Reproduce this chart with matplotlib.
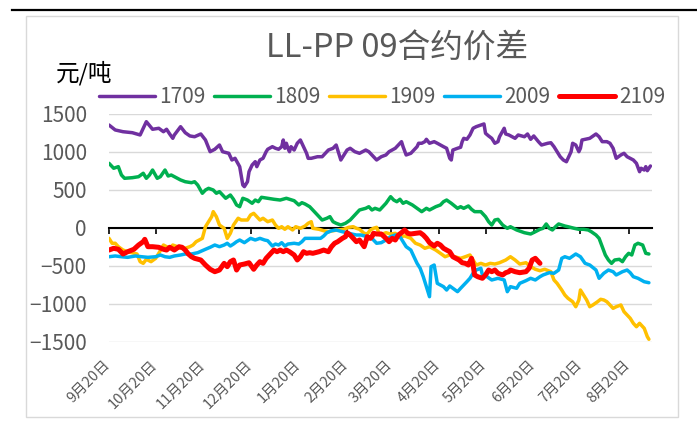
import matplotlib
matplotlib.use("Agg")
import matplotlib.pyplot as plt
from matplotlib.lines import Line2D
from matplotlib.patches import Rectangle
import matplotlib.transforms as mtransforms

plt.rcParams['font.family'] = ['Noto Sans CJK SC', 'DejaVu Sans']

# x = days since 9月20日
tick_days = [0, 30, 61, 91, 122, 153, 181, 212, 242, 273, 303, 334]
tick_labels = ["9月20日", "10月20日", "11月20日", "12月20日", "1月20日", "2月20日",
               "3月20日", "4月20日", "5月20日", "6月20日", "7月20日", "8月20日"]

d1709 = [0, 4, 9, 15, 20, 24, 28, 32, 35, 37, 39, 41, 42, 46, 49, 52, 55, 59, 62, 65, 68, 71, 73, 77, 79, 81, 84, 86, 87, 89, 90, 92, 94, 95, 97, 99, 101, 102, 105, 107, 109, 111, 112, 113, 114, 115, 116, 117, 119, 121, 123, 125, 127, 128, 130, 134, 137, 139, 141, 144, 146, 149, 151, 153, 155, 158, 161, 165, 167, 169, 172, 175, 178, 180, 182, 184, 186, 188, 189, 191, 194, 196, 198, 199, 201, 203, 204, 206, 209, 211, 213, 215, 217, 219, 220, 221, 224, 226, 227, 228, 230, 232, 234, 236, 239, 241, 242, 244, 246, 248, 250, 251, 254, 255, 257, 261, 263, 267, 269, 271, 273, 276, 278, 282, 284, 286, 288, 290, 292, 294, 297, 298, 300, 302, 303, 304, 306, 309, 312, 313, 315, 317, 320, 322, 324, 326, 329, 331, 333, 335, 337, 339, 341, 342, 344, 345, 346, 348]
v1709 = [1355, 1290, 1267, 1254, 1224, 1399, 1299, 1312, 1267, 1299, 1237, 1180, 1224, 1333, 1254, 1211, 1201, 1237, 1158, 1004, 1036, 1092, 1004, 983, 895, 917, 807, 566, 544, 609, 741, 829, 873, 807, 895, 917, 1004, 1036, 1070, 1049, 1036, 1070, 1158, 1049, 1115, 1049, 1004, 1070, 1026, 1115, 1158, 1070, 983, 917, 917, 938, 938, 983, 1026, 1049, 1092, 895, 961, 1026, 1049, 1004, 983, 1026, 1004, 961, 895, 938, 961, 1004, 1026, 1049, 1092, 1136, 1070, 961, 983, 1026, 1070, 1115, 1115, 1136, 1167, 1115, 1136, 1115, 1092, 1070, 1049, 917, 895, 1026, 1049, 1062, 1136, 1180, 1167, 1224, 1312, 1333, 1355, 1369, 1246, 1211, 1180, 1115, 1136, 1201, 1312, 1237, 1224, 1180, 1224, 1201, 1237, 1167, 1211, 1136, 1092, 1115, 1122, 1070, 1004, 938, 895, 872, 1004, 1115, 1092, 1004, 1049, 1158, 1167, 1180, 1224, 1237, 1201, 1136, 1136, 1115, 1049, 917, 961, 983, 938, 917, 895, 851, 741, 786, 763, 807, 754, 816]

d1809 = [0, 3, 6, 8, 10, 15, 19, 22, 24, 26, 28, 31, 33, 36, 38, 40, 44, 46, 49, 53, 55, 57, 60, 62, 64, 67, 69, 71, 75, 78, 80, 82, 84, 86, 89, 92, 94, 96, 98, 102, 106, 110, 114, 119, 122, 124, 126, 129, 131, 134, 137, 140, 142, 144, 146, 149, 152, 155, 158, 161, 165, 167, 169, 171, 174, 178, 181, 183, 185, 187, 189, 191, 195, 198, 201, 204, 206, 210, 213, 215, 217, 220, 224, 226, 228, 231, 233, 235, 239, 242, 244, 246, 248, 250, 253, 256, 258, 262, 267, 271, 274, 277, 279, 281, 283, 285, 287, 289, 291, 293, 295, 299, 302, 305, 308, 310, 313, 315, 317, 319, 321, 323, 325, 328, 330, 332, 334, 336, 338, 340, 343, 345, 347]
v1809 = [851, 786, 807, 697, 654, 662, 675, 720, 654, 697, 763, 654, 675, 763, 684, 697, 654, 632, 609, 596, 609, 566, 457, 500, 522, 500, 457, 478, 391, 434, 378, 303, 280, 391, 368, 325, 368, 346, 404, 391, 378, 368, 391, 359, 303, 333, 316, 280, 237, 171, 105, 128, 149, 83, 62, 39, 62, 105, 171, 237, 259, 280, 237, 259, 237, 325, 412, 368, 346, 378, 325, 346, 303, 259, 215, 259, 237, 280, 303, 346, 368, 325, 259, 280, 259, 290, 246, 215, 215, 149, 83, 39, 105, 114, 39, -4, 17, -26, -62, -79, -49, -17, -4, 53, -4, -26, 17, 53, 39, 26, 17, -4, -17, -17, -26, -49, -92, -136, -246, -355, -421, -465, -421, -412, -443, -378, -333, -355, -224, -201, -224, -333, -342]

d1909 = [0, 2, 4, 6, 9, 12, 16, 18, 20, 22, 24, 27, 30, 32, 35, 37, 39, 41, 44, 46, 49, 52, 54, 56, 60, 62, 64, 66, 67, 69, 71, 74, 76, 78, 80, 83, 85, 89, 91, 93, 95, 97, 99, 102, 105, 107, 109, 111, 113, 115, 118, 120, 123, 126, 128, 130, 131, 135, 138, 141, 144, 147, 151, 154, 157, 159, 161, 164, 166, 168, 170, 172, 174, 178, 181, 184, 187, 190, 194, 197, 200, 203, 206, 210, 213, 216, 219, 222, 226, 229, 232, 234, 236, 239, 242, 245, 248, 251, 255, 258, 261, 264, 268, 271, 274, 277, 280, 284, 286, 288, 291, 293, 295, 298, 300, 302, 303, 305, 307, 309, 311, 314, 316, 318, 320, 322, 324, 326, 329, 331, 333, 335, 337, 339, 341, 344, 346, 347]
v1909 = [-136, -201, -201, -246, -290, -312, -333, -342, -443, -465, -412, -443, -399, -333, -224, -246, -267, -224, -246, -267, -267, -246, -224, -180, -136, 17, 83, 149, 215, 149, 39, -4, -136, -70, 39, 128, 105, 105, 171, 193, 149, 105, 128, 83, 105, 39, -4, 17, -17, 17, -26, 17, -4, 26, 62, 83, -4, -17, -36, -49, -36, -26, -17, 9, 17, -4, -17, -70, -79, -26, -4, 9, -92, -62, -79, -70, -114, -105, -136, -201, -224, -267, -246, -290, -333, -378, -355, -378, -399, -378, -355, -421, -487, -465, -487, -465, -474, -457, -421, -378, -421, -474, -457, -509, -543, -562, -543, -575, -684, -728, -816, -882, -925, -970, -1036, -947, -816, -882, -947, -1036, -1013, -970, -938, -947, -970, -1013, -1057, -1036, -1013, -1101, -1145, -1188, -1254, -1299, -1254, -1320, -1430, -1464]

d2009 = [0, 4, 8, 12, 17, 21, 25, 30, 33, 36, 39, 42, 46, 49, 53, 57, 62, 65, 68, 71, 74, 76, 78, 80, 82, 84, 87, 91, 94, 97, 100, 102, 105, 107, 109, 111, 113, 115, 119, 122, 124, 126, 129, 133, 136, 138, 140, 143, 146, 150, 153, 156, 159, 162, 166, 169, 172, 175, 178, 181, 184, 187, 189, 191, 194, 196, 198, 200, 202, 204, 206, 207, 209, 211, 213, 215, 217, 219, 221, 224, 226, 228, 230, 232, 234, 236, 239, 240, 243, 246, 250, 254, 256, 258, 262, 264, 268, 271, 274, 277, 279, 283, 286, 289, 291, 293, 296, 300, 303, 306, 309, 313, 315, 318, 321, 324, 326, 330, 333, 335, 337, 340, 344, 347]
v2009 = [-378, -368, -378, -386, -368, -378, -386, -378, -355, -378, -386, -368, -355, -342, -342, -325, -280, -254, -224, -246, -224, -201, -237, -211, -180, -158, -193, -136, -158, -136, -158, -167, -237, -211, -224, -193, -237, -211, -201, -211, -180, -136, -136, -136, -136, -105, -62, -36, -26, -49, -62, -79, -92, -92, -114, -136, -201, -193, -158, -114, -92, -114, -180, -246, -290, -378, -465, -530, -641, -772, -904, -509, -487, -728, -750, -772, -816, -763, -793, -838, -793, -750, -707, -662, -596, -553, -530, -618, -641, -684, -662, -684, -838, -772, -793, -728, -693, -662, -684, -641, -618, -588, -596, -553, -399, -378, -399, -342, -378, -465, -487, -553, -662, -596, -553, -575, -618, -575, -553, -588, -641, -662, -707, -720]

d2109 = [0, 3, 6, 9, 12, 16, 19, 22, 23, 25, 28, 32, 35, 37, 39, 42, 45, 47, 49, 51, 53, 55, 59, 62, 65, 68, 71, 74, 76, 78, 80, 82, 84, 87, 90, 93, 95, 97, 99, 101, 104, 106, 108, 110, 112, 114, 116, 119, 121, 123, 125, 127, 129, 131, 135, 138, 141, 143, 145, 147, 150, 152, 153, 155, 157, 159, 161, 164, 165, 166, 168, 169, 170, 172, 175, 178, 180, 182, 184, 186, 188, 190, 192, 194, 197, 200, 202, 204, 206, 209, 211, 213, 215, 217, 219, 221, 225, 227, 229, 231, 233, 234, 235, 237, 240, 242, 244, 246, 248, 250, 253, 255, 257, 258, 261, 264, 268, 270, 272, 274, 276, 277]
v2109 = [-290, -267, -280, -342, -312, -280, -224, -180, -149, -246, -246, -254, -280, -290, -254, -290, -246, -254, -290, -342, -378, -399, -421, -487, -543, -575, -553, -465, -509, -443, -421, -553, -487, -474, -457, -543, -487, -443, -465, -399, -333, -290, -312, -290, -312, -290, -312, -355, -421, -378, -312, -333, -325, -333, -312, -290, -312, -246, -201, -180, -136, -114, -62, -92, -136, -180, -158, -246, -180, -114, -136, -114, -70, -79, -79, -136, -180, -136, -158, -92, -62, -26, -70, -79, -70, -62, -92, -136, -193, -237, -201, -224, -267, -290, -312, -378, -421, -457, -465, -487, -399, -487, -618, -641, -662, -618, -553, -575, -553, -596, -618, -588, -575, -553, -575, -588, -575, -530, -421, -399, -443, -465]

series = [
    ("1709", d1709, v1709, "#7030A0", 2.5),
    ("1809", d1809, v1809, "#00B050", 2.5),
    ("1909", d1909, v1909, "#FFC000", 2.5),
    ("2009", d2009, v2009, "#00B0F0", 2.5),
    ("2109", d2109, v2109, "#FF0000", 3.6),
]

W, H = 697, 424
fig = plt.figure(figsize=(W / 100, H / 100), dpi=100)
ax = fig.add_axes([109 / W, 82 / H, 543 / W, 228 / H])

handles = []
for name, d, v, c, lw in series:
    ln, = ax.plot(d, v, color=c, lw=lw, label=name, zorder=3,
                  solid_joinstyle='round', solid_capstyle='round')
    handles.append(ln)

ax.set_xlim(0, 349)
ax.set_ylim(-1500, 1500)
ax.set_yticks(range(-1500, 1501, 500))
ax.yaxis.grid(True, color='#D9D9D9', lw=1.0, zorder=0)
ax.set_axisbelow(True)
for s in ['left', 'right', 'top']:
    ax.spines[s].set_visible(False)
ax.spines['bottom'].set_position(('data', 0))
ax.spines['bottom'].set_color('black')
ax.spines['bottom'].set_linewidth(1.5)
ax.spines['bottom'].set_zorder(2.5)
ax.set_xticks(tick_days)
ax.tick_params(axis='x', direction='out', length=4, width=1.2, color='black',
               labelbottom=False)
ax.tick_params(axis='y', length=0, pad=16, labelsize=15, labelcolor='#595959')

sec = ax.secondary_xaxis('bottom')
sec.set_xticks(tick_days, labels=tick_labels)
sec.spines['bottom'].set_visible(False)
sec.tick_params(length=0, pad=11, labelsize=10.5, labelcolor='#595959')
offset = mtransforms.ScaledTranslation(-6 / 100, 0, fig.dpi_scale_trans)
for lbl in sec.get_xticklabels():
    lbl.set_rotation(45)
    lbl.set_ha('right')
    lbl.set_rotation_mode('anchor')
    lbl.set_transform(lbl.get_transform() + offset)

fig.text(397 / W, 1 - 49 / H, "LL-PP 09合约价差", ha='center', va='center',
         fontsize=23.5, color='#595959')
fig.text(84 / W, 1 - 73 / H, "元/吨", ha='center', va='center',
         fontsize=17, color='black')

fig.legend(handles=handles, loc='center', bbox_to_anchor=(382 / W, 1 - 97 / H),
           ncol=5, frameon=False, fontsize=15, labelcolor='#595959',
           handlelength=2.7, handletextpad=0.2, columnspacing=0.4,
           borderaxespad=0, borderpad=0)

fig.add_artist(Line2D([12 / W, 1.0], [1 - 10 / H, 1 - 10 / H], color='black',
                      lw=1.6, transform=fig.transFigure))
fig.add_artist(Rectangle((26 / W, 1 - 417 / H), (678 - 26) / W, (417 - 16) / H,
                         fill=False, edgecolor='#D9D9D9', lw=1.0,
                         transform=fig.transFigure))

fig.savefig("out.png", dpi=100)
